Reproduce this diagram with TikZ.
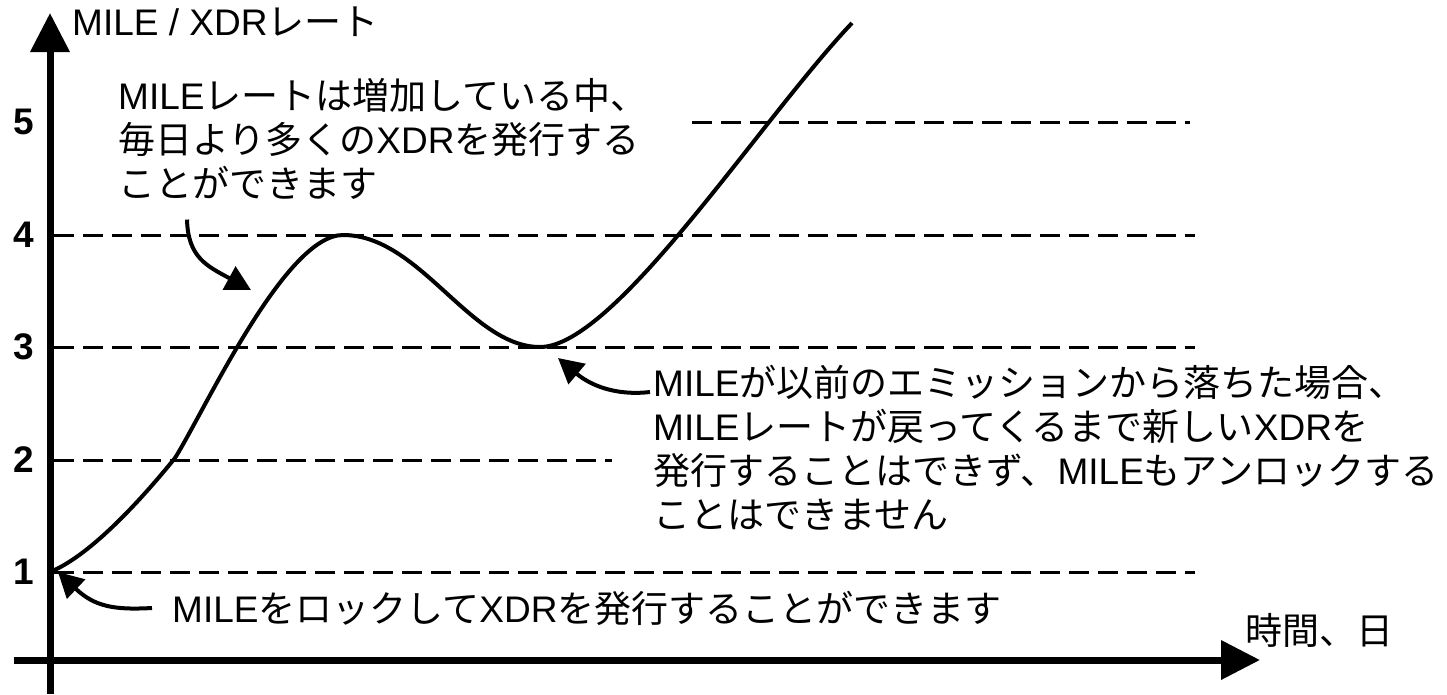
\documentclass[tikz,border=0pt]{standalone}
\usepackage{fontspec}
\setmainfont{Liberation Sans}
\newfontfamily\jpfont{Noto Sans CJK JP}
\usetikzlibrary{arrows.meta}

\newcommand{\jp}[1]{{\jpfont #1}}

\tikzset{
  axis/.style={line width=7pt,-{Triangle[length=39pt,width=38pt]}},
  level/.style={line width=3pt,dash pattern=on 20pt off 9pt},
  rate/.style={line width=4pt},
  note/.style={line width=4pt,-{Triangle[length=25pt,width=26pt]}},
  lbl/.style={inner sep=0pt,font=\fontsize{37}{44}\selectfont},
  tick/.style={inner sep=0pt,font=\fontsize{37}{44}\selectfont\bfseries},
}

\begin{document}
\begin{tikzpicture}[x=1pt,y=-1pt]
\useasboundingbox (0,0) rectangle (1447,694);

% levels and tick numbers
\foreach \n/\y/\a/\b in {1/572/54/1195, 2/460/54/612, 3/347/54/1195, 4/235/54/1195, 5/122/692/1190}{
  \node[tick] (t\n) at (24,\y) {\n};
  \draw[level] (\a,\y) -- (\b,\y);
}

% axes
\draw[axis] (50,694) -- (50,13);
\draw[axis] (14,660) -- (1260,660);
\node[lbl,anchor=west] (ylabel) at (72,22) {MILE / XDR\jp{レート}};
\node[lbl,anchor=west] (xlabel) at (1245,630) {\jp{時間、日}};

% the rate curve
\coordinate (lock) at (50,572);
\coordinate (kink) at (175,458);
\coordinate (peak) at (343,235);
\coordinate (dip) at (540,347);
\coordinate (top) at (852,23);
\draw[rate] (lock) .. controls (92,555) and (145,495) .. (kink)
  .. controls (205,410) and (285,235) .. (peak)
  .. controls (420,235) and (470,347) .. (dip)
  .. controls (615,347) and (760,120) .. (top);

% notes
\node[lbl,anchor=north west,align=left] (risenote) at (118,78)
  {MILE\jp{レートは増加している中、}\\
   \jp{毎日より多くの}XDR\jp{を発行する}\\
   \jp{ことができます}};
\node[lbl,anchor=west] (locknote) at (172,608)
  {MILE\jp{をロックして}XDR\jp{を発行することができます}};
\node[lbl,anchor=north west,align=left] (dipnote) at (653,365)
  {MILE\jp{が以前のエミッションから落ちた場合、}\\
   MILE\jp{レートが戻ってくるまで新しい}XDR\jp{を}\\
   \jp{発行することはできず、}MILE\jp{もアンロックする}\\
   \jp{ことはできません}};

\coordinate (risetip) at (251,290);
\coordinate (locktip) at (58,572);
\coordinate (diptip) at (558,358);
\draw[note] ([xshift=69pt,yshift=-20pt]risenote.south west) .. controls +(1,38) and +(-44,-24) .. (risetip);
\draw[note] ([xshift=-20pt]locknote.west) .. controls +(-37,2) and +(37,35) .. (locktip);
\draw[note] ([xshift=-3pt,yshift=-27pt]dipnote.north west) .. controls +(-35,4) and +(32,27) .. (diptip);
\end{tikzpicture}
\end{document}
